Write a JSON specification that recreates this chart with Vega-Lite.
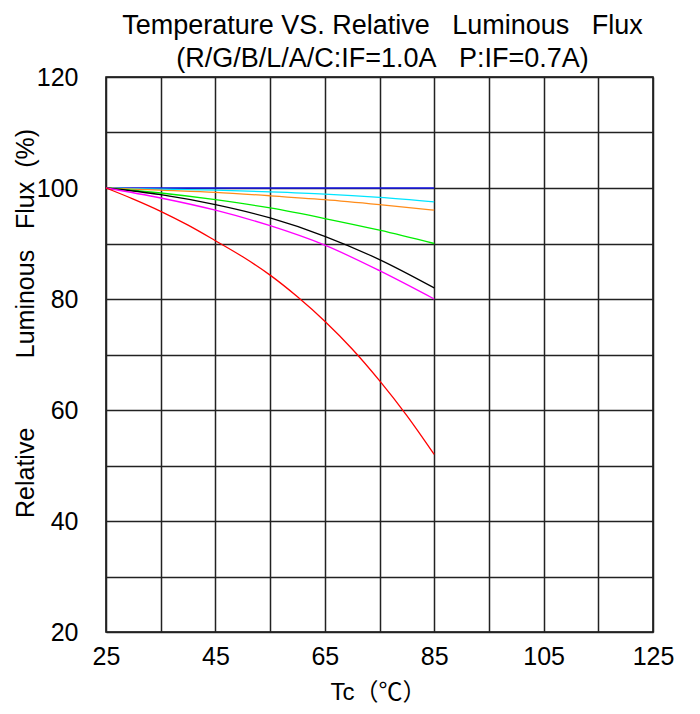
{
  "$schema": "https://vega.github.io/schema/vega-lite/v6.json",
  "width": 547,
  "height": 555,
  "autosize": {"type": "none"},
  "padding": {"left": 106, "top": 77, "right": 47, "bottom": 82},
  "background": "white",
  "title": {
    "text": ["Temperature VS. Relative\u00a0\u00a0\u00a0Luminous\u00a0\u00a0\u00a0Flux", "(R/G/B/L/A/C:IF=1.0A\u00a0\u00a0\u00a0P:IF=0.7A)"],
    "font": "Liberation Sans",
    "fontSize": 27,
    "fontWeight": "normal",
    "lineHeight": 33,
    "color": "black",
    "anchor": "middle",
    "dx": 3,
    "offset": -8
  },
  "config": {
    "view": {"stroke": "black", "strokeWidth": 1.5},
    "font": "Liberation Sans"
  },
  "data": {
    "values": [
      {"s": "B", "t": 25, "v": 100}, {"s": "B", "t": 45, "v": 100}, {"s": "B", "t": 65, "v": 100}, {"s": "B", "t": 85, "v": 100},
      {"s": "C", "t": 25, "v": 100}, {"s": "C", "t": 35, "v": 99.8}, {"s": "C", "t": 45, "v": 99.6}, {"s": "C", "t": 55, "v": 99.3}, {"s": "C", "t": 65, "v": 98.9}, {"s": "C", "t": 75, "v": 98.3}, {"s": "C", "t": 85, "v": 97.5},
      {"s": "A", "t": 25, "v": 100}, {"s": "A", "t": 35, "v": 99.6}, {"s": "A", "t": 45, "v": 99.2}, {"s": "A", "t": 55, "v": 98.6}, {"s": "A", "t": 65, "v": 97.9}, {"s": "A", "t": 75, "v": 97.0}, {"s": "A", "t": 85, "v": 96.0},
      {"s": "G", "t": 25, "v": 100}, {"s": "G", "t": 35, "v": 99.1}, {"s": "G", "t": 45, "v": 97.9}, {"s": "G", "t": 55, "v": 96.4}, {"s": "G", "t": 65, "v": 94.5}, {"s": "G", "t": 75, "v": 92.4}, {"s": "G", "t": 85, "v": 90.0},
      {"s": "L", "t": 25, "v": 100}, {"s": "L", "t": 35, "v": 98.8}, {"s": "L", "t": 45, "v": 97.0}, {"s": "L", "t": 55, "v": 94.6}, {"s": "L", "t": 65, "v": 91.3}, {"s": "L", "t": 75, "v": 87.1}, {"s": "L", "t": 85, "v": 82.0},
      {"s": "P", "t": 25, "v": 100}, {"s": "P", "t": 35, "v": 98.2}, {"s": "P", "t": 45, "v": 96.0}, {"s": "P", "t": 55, "v": 93.2}, {"s": "P", "t": 65, "v": 89.7}, {"s": "P", "t": 75, "v": 85.1}, {"s": "P", "t": 85, "v": 80.0},
      {"s": "R", "t": 25, "v": 100}, {"s": "R", "t": 30, "v": 98.0}, {"s": "R", "t": 35, "v": 95.8}, {"s": "R", "t": 40, "v": 93.3}, {"s": "R", "t": 45, "v": 90.5}, {"s": "R", "t": 50, "v": 87.6}, {"s": "R", "t": 55, "v": 84.3}, {"s": "R", "t": 60, "v": 80.4}, {"s": "R", "t": 65, "v": 76.0}, {"s": "R", "t": 70, "v": 71.0}, {"s": "R", "t": 75, "v": 65.3}, {"s": "R", "t": 80, "v": 59.0}, {"s": "R", "t": 85, "v": 52.0}
    ]
  },
  "mark": {"type": "line", "interpolate": "monotone", "strokeWidth": 1.3},
  "encoding": {
    "x": {
      "field": "t", "type": "quantitative",
      "scale": {"domain": [25, 125], "nice": false, "zero": false},
      "axis": {
        "values": [25, 35, 45, 55, 65, 75, 85, 95, 105, 115, 125],
        "labelExpr": "datum.value % 20 == 5 ? datum.label : ''",
        "grid": true, "gridColor": "#222", "gridWidth": 1.5, "gridOpacity": 1,
        "domain": false, "ticks": false,
        "labelFontSize": 25, "labelColor": "black", "labelPadding": 12, "labelFlush": false,
        "labelFont": "Liberation Sans",
        "title": "Tc（℃）",
        "titleFont": "Liberation Sans, Noto Sans CJK SC",
        "titleFontSize": 24, "titleFontWeight": "normal", "titleColor": "black",
        "titleX": 272, "titleY": 60, "titleBaseline": "middle", "titleAlign": "center"
      }
    },
    "y": {
      "field": "v", "type": "quantitative",
      "scale": {"domain": [20, 120], "nice": false, "zero": false},
      "axis": {
        "values": [20, 30, 40, 50, 60, 70, 80, 90, 100, 110, 120],
        "labelExpr": "datum.value % 20 == 0 ? datum.label : ''",
        "grid": true, "gridColor": "#222", "gridWidth": 1.5, "gridOpacity": 1,
        "domain": false, "ticks": false,
        "labelFontSize": 25, "labelColor": "black", "labelPadding": 28, "labelFlush": false,
        "labelFont": "Liberation Sans",
        "title": "Relative\u00a0\u00a0\u00a0\u00a0\u00a0\u00a0\u00a0\u00a0\u00a0\u00a0Luminous\u00a0\u00a0\u00a0Flux\u00a0\u00a0(%)",
        "titleFont": "Liberation Sans",
        "titleFontSize": 25, "titleFontWeight": "normal", "titleColor": "black",
        "titleAngle": -90, "titleX": -81, "titleY": 246, "titleBaseline": "middle", "titleAlign": "center"
      }
    },
    "color": {
      "field": "s", "type": "nominal",
      "scale": {"domain": ["R", "P", "L", "G", "A", "C", "B"], "range": ["#ff0000", "#ff00ff", "#000000", "#00ee00", "#ff8c1a", "#00e5ff", "#1a1aee"]},
      "legend": null
    }
  }
}
